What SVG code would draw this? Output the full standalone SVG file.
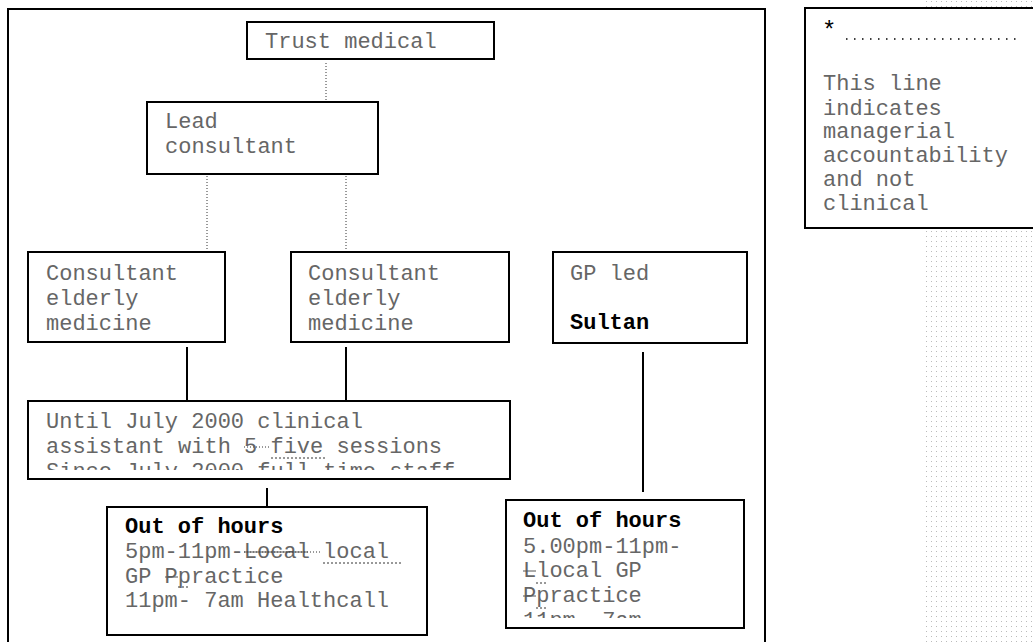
<svg xmlns="http://www.w3.org/2000/svg" width="1033" height="642" viewBox="0 0 1033 642">
<style>
.box{fill:#fff;stroke:#000;stroke-width:2}
.t{font-family:"Liberation Mono","Courier New",monospace;font-size:22px;fill:#666}
.b{font-family:"Liberation Mono","Courier New",monospace;font-size:22px;fill:#000;font-weight:bold}
.solid{stroke:#000;stroke-width:2;fill:none}
.dot{stroke:#333;stroke-width:1;stroke-dasharray:1 2;fill:none}
.mark{stroke:#333;stroke-width:1;stroke-dasharray:2 2;fill:none}
.strike{stroke:#555;stroke-width:1;fill:none}
</style>
<defs>
<pattern id="dots" x="0" y="0" width="5" height="5" patternUnits="userSpaceOnUse">
<rect x="1" y="1" width="1" height="1" fill="#bbb"/>
</pattern>
<clipPath id="clipBig"><rect x="28" y="401" width="482" height="69"/></clipPath>
<clipPath id="clipOoh2"><rect x="506" y="500" width="238" height="118"/></clipPath>
</defs>
<rect x="0" y="0" width="1033" height="642" fill="#fff"/>
<rect x="922" y="0" width="111" height="642" fill="url(#dots)"/>
<g id="frame"><path d="M8 642 V9 H765 V642" class="solid"/></g>

<g id="connectors">
<line x1="326" y1="63" x2="326" y2="101" class="dot"/>
<line x1="207" y1="176" x2="207" y2="251" class="dot"/>
<line x1="346" y1="173" x2="346" y2="251" class="dot"/>
<line x1="187" y1="347" x2="187" y2="407" class="solid"/>
<line x1="346" y1="347" x2="346" y2="407" class="solid"/>
<line x1="267" y1="488" x2="267" y2="507" class="solid"/>
<line x1="643" y1="352" x2="643" y2="492" class="solid"/>
</g>

<g id="trust"><rect x="247" y="22" width="247" height="37" class="box"/>
<text x="265" y="48" class="t">Trust medical</text></g>

<g id="lead"><rect x="147" y="102" width="231" height="72" class="box"/>
<text class="t"><tspan x="165" y="128">Lead</tspan><tspan x="165" y="153">consultant</tspan></text></g>

<g id="cons1"><rect x="28" y="252" width="197" height="90" class="box"/>
<text class="t"><tspan x="46" y="280">Consultant</tspan><tspan x="46" y="305">elderly</tspan><tspan x="46" y="330">medicine</tspan></text></g>

<g id="cons2"><rect x="291" y="252" width="218" height="90" class="box"/>
<text class="t"><tspan x="308" y="280">Consultant</tspan><tspan x="308" y="305">elderly</tspan><tspan x="308" y="330">medicine</tspan></text></g>

<g id="gpled"><rect x="553" y="252" width="194" height="91" class="box"/>
<text x="570" y="280" class="t">GP led</text>
<text x="570" y="329" class="b">Sultan</text></g>

<g id="assistant"><rect x="28" y="401" width="482" height="78" class="box"/>
<g clip-path="url(#clipBig)">
<text class="t"><tspan x="46" y="428">Until July 2000 clinical</tspan><tspan x="46" y="453">assistant with 5 five sessions</tspan><tspan x="46" y="478">Since July 2000 full time staff</tspan></text>
<line x1="244" y1="447" x2="270" y2="447" class="dot"/>
<line x1="271" y1="458" x2="327" y2="458" class="mark"/>
</g></g>

<g id="ooh1"><rect x="107" y="507" width="320" height="128" class="box"/>
<text x="125" y="533" class="b">Out of hours</text>
<text class="t"><tspan x="125" y="558">5pm-11pm-Local  local</tspan><tspan x="125" y="583">GP Ppractice</tspan><tspan x="125" y="607">11pm- 7am Healthcall</tspan></text>
<line x1="244" y1="552" x2="322" y2="552" class="dot"/>
<line x1="244" y1="552" x2="308" y2="552" class="strike"/>
<line x1="323" y1="563" x2="403" y2="563" class="mark"/>
<line x1="165" y1="577" x2="178" y2="577" class="strike"/>
<line x1="178" y1="587" x2="190" y2="587" class="mark"/>
</g>

<g id="ooh2"><rect x="506" y="500" width="238" height="128" class="box"/>
<g clip-path="url(#clipOoh2)">
<text x="523" y="527" class="b">Out of hours</text>
<text class="t"><tspan x="523" y="553">5.00pm-11pm-</tspan><tspan x="523" y="577">Llocal GP</tspan><tspan x="523" y="602">Ppractice</tspan><tspan x="523" y="627">11pm- 7am</tspan></text>
</g>
<line x1="523" y1="571" x2="536" y2="571" class="strike"/>
<line x1="536" y1="583" x2="548" y2="583" class="mark"/>
<line x1="523" y1="596" x2="536" y2="596" class="strike"/>
<line x1="536" y1="608" x2="548" y2="608" class="mark"/>
</g>

<g id="legend"><rect x="805" y="8" width="240" height="220" class="box"/>
<text x="822" y="38" font-family="Liberation Mono, monospace" font-size="24px" fill="#000">*</text>
<line x1="846" y1="39" x2="1022" y2="39" stroke="#000" stroke-width="1.5" stroke-dasharray="1.5 6.5"/>
<text class="t"><tspan x="823" y="90">This line</tspan><tspan x="823" y="115">indicates</tspan><tspan x="823" y="138">managerial</tspan><tspan x="823" y="162">accountability</tspan><tspan x="823" y="186">and not</tspan><tspan x="823" y="210">clinical</tspan></text>
</g>
</svg>
